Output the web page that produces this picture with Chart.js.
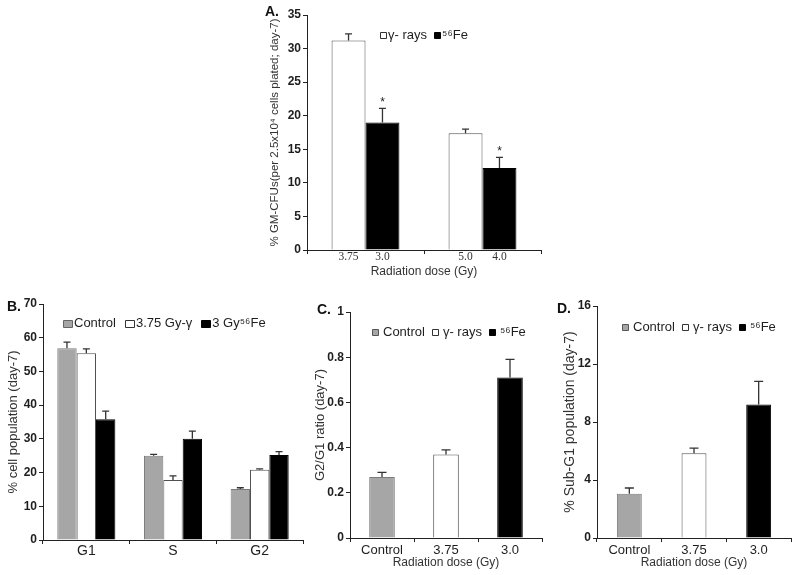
<!DOCTYPE html>
<html><head><meta charset="utf-8">
<script src="https://cdn.jsdelivr.net/npm/chart.js@4"></script>
<style>
html,body{margin:0;padding:0;background:#fff;}
body{width:800px;height:575px;position:relative;overflow:hidden;}
canvas{position:absolute;}
</style></head><body>
<canvas id="cA" style="left:230px;top:0px" width="320" height="280"></canvas>
<canvas id="cB" style="left:0px;top:280px" width="310" height="295"></canvas>
<canvas id="cC" style="left:300px;top:280px" width="250" height="295"></canvas>
<canvas id="cD" style="left:550px;top:280px" width="250" height="295"></canvas>
<script>
// ---------------- DATA ----------------
// Panel A: GM-CFUs
const aGroups = ['Group 1', 'Group 2'];
const aGammaDoses = ['3.75', '5.0'];
const aFeDoses = ['3.0', '4.0'];
const aSeriesLabels = ['γ- rays', '⁵⁶Fe'];
const aGamma = [31.2, 17.4];
const aGammaErr = [1.0, 0.6];
const aFe = [19.0, 12.2];
const aFeErr = [2.1, 1.6];
const aFeStar = [true, true];

// Panel B: cell cycle phases
const bPhases = ['G1', 'S', 'G2'];
const bSeriesLabels = ['Control', '3.75 Gy-γ', '3 Gy⁵⁶Fe'];
const bControl = [56.9, 25.0, 15.1];
const bControlErr = [1.8, 0.4, 0.4];
const bGamma = [55.4, 17.8, 20.8];
const bGammaErr = [1.3, 1.2, 0.3];
const bFe = [35.8, 30.0, 25.2];
const bFeErr = [2.4, 2.3, 1.0];

// Panel C: G2/G1 ratio
const cDoses = ['Control', '3.75', '3.0'];
const cLegendLabels = ['Control', 'γ- rays', '⁵⁶Fe'];
const cRatio = [0.27, 0.37, 0.71];
const cRatioErr = [0.02, 0.02, 0.08];

// Panel D: Sub-G1 population
const dDoses = ['Control', '3.75', '3.0'];
const dLegendLabels = ['Control', 'γ- rays', '⁵⁶Fe'];
const dSubG1 = [3.05, 5.85, 9.2];
const dSubG1Err = [0.4, 0.35, 1.6];

// ---------------- STYLE ----------------
const FAM = '"Liberation Sans", Arial, sans-serif';
const GRAY = '#a6a6a6', GRAY_EDGE = '#7a7a7a';
const WHITE = '#ffffff', WHITE_EDGE = '#505050';
const BLACK = '#000000';
const AXIS = '#222222', TXT = '#1e1e1e', TXT2 = '#333333';

const decor = {
  id: 'decor',
  afterDatasetsDraw(chart) {
    const o = chart.options.plugins.decor;
    const ctx = chart.ctx;
    const ys = chart.scales.y;
    ctx.save();
    chart.data.datasets.forEach((ds, di) => {
      const meta = chart.getDatasetMeta(di);
      meta.data.forEach((bar, i) => {
        const top = ys.getPixelForValue(ds.data[i] + ds.err[i]);
        ctx.strokeStyle = o.errColor; ctx.lineWidth = 1.3;
        ctx.beginPath();
        ctx.moveTo(bar.x, bar.y); ctx.lineTo(bar.x, top);
        ctx.moveTo(bar.x - o.capW / 2, top); ctx.lineTo(bar.x + o.capW / 2, top);
        ctx.stroke();
        if (ds.star && ds.star[i]) {
          ctx.fillStyle = TXT; ctx.font = '12px ' + FAM;
          ctx.textAlign = 'center'; ctx.textBaseline = 'alphabetic';
          ctx.fillText('*', bar.x, top - 2);
        }
        if (ds.subLabels) {
          ctx.fillStyle = TXT2; ctx.font = o.subFont;
          ctx.textAlign = 'center'; ctx.textBaseline = 'middle';
          ctx.fillText(ds.subLabels[i], bar.x, o.subY);
        }
      });
    });
    const L = o.legend;
    let x = L.x;
    ctx.font = L.font; ctx.textBaseline = 'middle'; ctx.textAlign = 'left';
    L.items.forEach(it => {
      ctx.fillStyle = it.fill; ctx.strokeStyle = it.stroke; ctx.lineWidth = 1;
      ctx.beginPath();
      ctx.rect(Math.round(x) + 0.5, Math.round(L.y - L.boxH / 2) + 0.5, L.boxW, L.boxH);
      ctx.fill(); ctx.stroke();
      x += L.boxW + L.textGap;
      ctx.fillStyle = TXT;
      ctx.fillText(it.text, x, L.y);
      x += ctx.measureText(it.text).width + L.itemGap;
    });
    ctx.font = 'bold 14px ' + FAM; ctx.fillStyle = '#111';
    ctx.textAlign = 'left'; ctx.textBaseline = 'middle';
    ctx.fillText(o.panel, o.panelX, o.panelY);
    ctx.restore();
  }
};

function panel(id, p) {
  return new Chart(document.getElementById(id), {
    type: 'bar',
    data: { labels: p.labels, datasets: p.datasets },
    plugins: [decor],
    options: {
      responsive: false, animation: false, events: [],
      layout: { padding: { left: 0, top: p.padTop, right: p.padRight, bottom: 0 } },
      plugins: { legend: { display: false }, tooltip: { enabled: false }, decor: p.decor },
      scales: {
        x: {
          grid: { display: true, drawOnChartArea: false, drawTicks: true, tickLength: 4, color: AXIS, offset: true },
          border: { display: true, color: AXIS, width: 1 },
          ticks: { display: p.xTicks !== false, color: TXT, font: { family: FAM, size: p.xFontSize || 13, lineHeight: 1 }, padding: p.xPad || 0, maxRotation: 0, autoSkip: false },
          title: p.xTitle ? { display: true, text: p.xTitle, color: TXT2, font: { family: FAM, size: 12 }, padding: { top: 0, bottom: p.xTitlePad } } : { display: false },
          afterFit: s => { s.height = p.xH; }
        },
        y: {
          min: p.yMin, max: p.yMax,
          ticks: { stepSize: p.yStep, color: TXT, font: { family: FAM, size: 12, weight: 'bold' }, padding: 2,
                   callback: v => String(+(+v).toFixed(2)) },
          grid: { drawOnChartArea: false, tickLength: 4, color: AXIS },
          border: { display: true, color: AXIS, width: 1 },
          title: { display: true, text: p.yTitle, color: TXT2, font: { family: FAM, size: p.yTitleSize }, padding: { top: p.yTitlePad, bottom: 0 } },
          afterFit: s => { s.width = p.yW; }
        }
      }
    }
  });
}

// Panel A
panel('cA', {
  labels: aGroups,
  datasets: [
    { label: aSeriesLabels[0], data: aGamma, err: aGammaErr, subLabels: aGammaDoses,
      backgroundColor: WHITE, borderColor: WHITE_EDGE, borderWidth: 1, categoryPercentage: 0.58, barPercentage: 1 },
    { label: aSeriesLabels[1], data: aFe, err: aFeErr, star: aFeStar, subLabels: aFeDoses,
      backgroundColor: BLACK, borderColor: BLACK, borderWidth: 1, categoryPercentage: 0.58, barPercentage: 1 }
  ],
  padTop: 15, padRight: 9, yW: 77, xH: 30, xTicks: false,
  yMin: 0, yMax: 35, yStep: 5,
  yTitle: '% GM-CFUs(per 2.5x10⁴ cells plated; day-7)', yTitleSize: 11.5, yTitlePad: 38,
  xTitle: 'Radiation dose (Gy)', xTitlePad: 1.2,
  decor: {
    errColor: '#333', capW: 7, subFont: '11.5px "Liberation Serif", "Times New Roman", serif', subY: 257,
    legend: { x: 150, y: 35, boxW: 6, boxH: 6, textGap: 2, itemGap: 7, font: '13px ' + FAM,
      items: [{ text: aSeriesLabels[0], fill: WHITE, stroke: '#333' }, { text: aSeriesLabels[1], fill: BLACK, stroke: BLACK }] },
    panel: 'A.', panelX: 35, panelY: 12
  }
});

// Panel B
const bStyle = { categoryPercentage: 0.67, barPercentage: 1, borderWidth: 1 };
panel('cB', {
  labels: bPhases,
  datasets: [
    Object.assign({ label: bSeriesLabels[0], data: bControl, err: bControlErr, backgroundColor: GRAY, borderColor: GRAY_EDGE }, bStyle),
    Object.assign({ label: bSeriesLabels[1], data: bGamma, err: bGammaErr, backgroundColor: WHITE, borderColor: WHITE_EDGE }, bStyle),
    Object.assign({ label: bSeriesLabels[2], data: bFe, err: bFeErr, backgroundColor: BLACK, borderColor: BLACK }, bStyle)
  ],
  padTop: 24, padRight: 7, yW: 43, xH: 35, xFontSize: 14, xPad: 0,
  yMin: 0, yMax: 70, yStep: 10,
  yTitle: '% cell population (day-7)', yTitleSize: 13, yTitlePad: 6,
  decor: {
    errColor: '#333', capW: 7,
    legend: { x: 63, y: 43, boxW: 9, boxH: 7, textGap: 2, itemGap: 9, font: '13px ' + FAM,
      items: [{ text: bSeriesLabels[0], fill: GRAY, stroke: '#666' }, { text: bSeriesLabels[1], fill: WHITE, stroke: '#333' }, { text: bSeriesLabels[2], fill: BLACK, stroke: BLACK }] },
    panel: 'B.', panelX: 7, panelY: 27
  }
});

// Panel C
panel('cC', {
  labels: cDoses,
  datasets: [
    { label: 'G2/G1', data: cRatio, err: cRatioErr,
      backgroundColor: [GRAY, WHITE, BLACK], borderColor: [GRAY_EDGE, WHITE_EDGE, BLACK], borderWidth: 1,
      categoryPercentage: 0.4, barPercentage: 1 }
  ],
  padTop: 32, padRight: 8, yW: 50, xH: 37, xFontSize: 13, xPad: 1.5,
  yMin: 0, yMax: 1, yStep: 0.2,
  yTitle: 'G2/G1 ratio (day-7)', yTitleSize: 13, yTitlePad: 13,
  xTitle: 'Radiation dose (Gy)', xTitlePad: 4.8,
  decor: {
    errColor: '#333', capW: 9,
    legend: { x: 72, y: 52, boxW: 6, boxH: 6, textGap: 5, itemGap: 7, font: '13px ' + FAM,
      items: [{ text: cLegendLabels[0], fill: GRAY, stroke: '#555' }, { text: cLegendLabels[1], fill: WHITE, stroke: '#333' }, { text: cLegendLabels[2], fill: BLACK, stroke: BLACK }] },
    panel: 'C.', panelX: 17, panelY: 30
  }
});

// Panel D
panel('cD', {
  labels: dDoses,
  datasets: [
    { label: 'Sub-G1', data: dSubG1, err: dSubG1Err,
      backgroundColor: [GRAY, WHITE, BLACK], borderColor: [GRAY_EDGE, WHITE_EDGE, BLACK], borderWidth: 1,
      categoryPercentage: 0.385, barPercentage: 1 }
  ],
  padTop: 26, padRight: 9, yW: 47, xH: 37, xFontSize: 13, xPad: 1.5,
  yMin: 0, yMax: 16, yStep: 4,
  yTitle: '% Sub-G1 population (day-7)', yTitleSize: 14, yTitlePad: 11.6,
  xTitle: 'Radiation dose (Gy)', xTitlePad: 4.8,
  decor: {
    errColor: '#333', capW: 9,
    legend: { x: 72, y: 47, boxW: 6, boxH: 6, textGap: 5, itemGap: 7, font: '13px ' + FAM,
      items: [{ text: dLegendLabels[0], fill: GRAY, stroke: '#555' }, { text: dLegendLabels[1], fill: WHITE, stroke: '#333' }, { text: dLegendLabels[2], fill: BLACK, stroke: BLACK }] },
    panel: 'D.', panelX: 7, panelY: 29
  }
});
</script>
</body></html>
